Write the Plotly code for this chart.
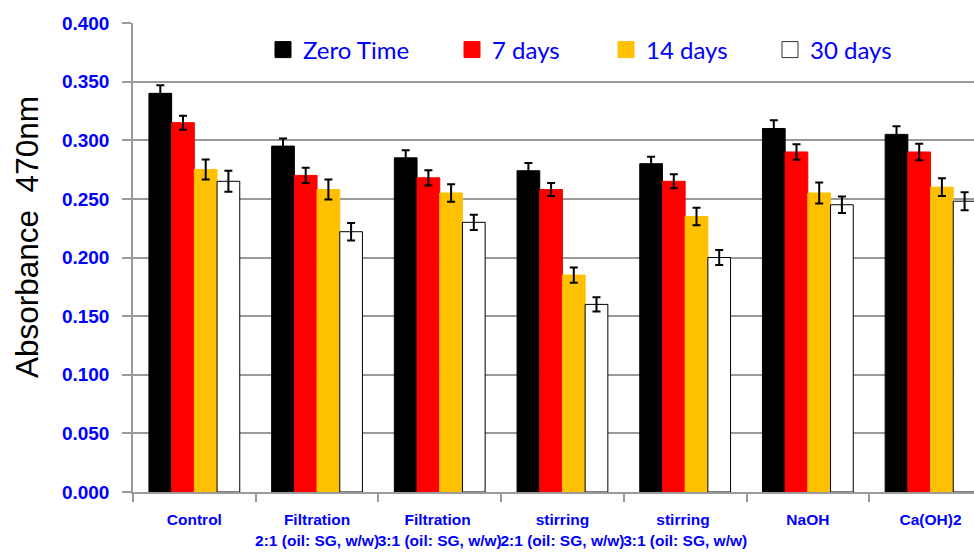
import plotly.graph_objects as go

# Sample groups (two-line tick labels)
categories = [
    "Control",
    "Filtration<br>2:1 (oil: SG, w/w)",
    "Filtration <br>3:1 (oil: SG, w/w)",
    "stirring<br>2:1 (oil: SG, w/w)",
    "stirring <br>3:1 (oil: SG, w/w)",
    "NaOH",
    "Ca(OH)2",
]

# Absorbance at 470 nm for each storage time
zero_time = [0.340, 0.295, 0.285, 0.274, 0.280, 0.310, 0.305]
days_7 = [0.315, 0.270, 0.268, 0.258, 0.265, 0.290, 0.290]
days_14 = [0.275, 0.258, 0.255, 0.185, 0.235, 0.255, 0.260]
days_30 = [0.265, 0.222, 0.230, 0.160, 0.200, 0.245, 0.248]

# Standard errors
err_zero = [0.007, 0.0065, 0.0065, 0.0065, 0.006, 0.007, 0.007]
err_7 = [0.006, 0.0065, 0.0065, 0.0055, 0.006, 0.0066, 0.007]
err_14 = [0.0085, 0.0085, 0.0075, 0.0065, 0.0075, 0.009, 0.0076]
err_30 = [0.009, 0.0075, 0.0065, 0.006, 0.0065, 0.007, 0.0076]

series_names = ["Zero Time", "7 days", "14 days", "30 days"]
y_ticks = [0.0, 0.05, 0.10, 0.15, 0.20, 0.25, 0.30, 0.35, 0.40]
y_title = "Absorbance \u00a0470nm"

W, H = 974, 558
M_L, M_R, M_T, M_B = 133, 0, 23, 66
plot_w = W - M_L - M_R
plot_h = H - M_T - M_B

BLUE = "#0000FF"
GRID = "#9a9a9a"
BOLD_SANS = "Liberation Sans, Arial, sans-serif"

series = [
    (series_names[0], zero_time, err_zero, "#000000", "#000000"),
    (series_names[1], days_7, err_7, "#FF0000", "#FF0000"),
    (series_names[2], days_14, err_14, "#FFC000", "#FFC000"),
    (series_names[3], days_30, err_30, "#FFFFFF", "#000000"),
]

legend_ids = ["legend", "legend2", "legend3", "legend4"]
legend_px = [263, 452, 606, 770]  # left edge of each legend entry, px

fig = go.Figure()
for name, vals, errs, fill, edge in series:
    fig.add_trace(go.Bar(
        name=name,
        x=categories,
        y=vals,
        marker=dict(color=fill, line=dict(color=edge, width=1)),
        error_y=dict(type="data", array=errs, visible=True,
                     color="#000000", thickness=2, width=4),
        showlegend=False,
    ))

# Legend keys: larger square swatches, one legend box per series
for (name, _, _, fill, edge), lid in zip(series, legend_ids):
    fig.add_trace(go.Scatter(
        name=name,
        x=[None],
        y=[None],
        mode="markers",
        marker=dict(symbol="square", size=16, color=fill,
                    line=dict(color="#333333" if fill != edge else fill, width=1)),
        legend=lid,
        showlegend=True,
    ))

legend_layout = {}
for lid, px in zip(legend_ids, legend_px):
    legend_layout[lid] = dict(
        x=(px - M_L) / plot_w,
        y=1 - (50 - M_T) / plot_h,
        xanchor="left",
        yanchor="middle",
        orientation="h",
        bgcolor="rgba(0,0,0,0)",
        font=dict(family="Lato, Open Sans, sans-serif", size=24, color=BLUE),
        itemsizing="trace",
        itemclick=False,
    )

fig.update_layout(
    width=W,
    height=H,
    margin=dict(l=M_L, r=M_R, t=M_T, b=M_B, autoexpand=False),
    paper_bgcolor="white",
    plot_bgcolor="white",
    barmode="group",
    bargap=0.26,
    bargroupgap=0,
    showlegend=True,
    **legend_layout,
)

# Rotated y-axis title placed in the left margin
fig.add_annotation(
    text=y_title,
    textangle=-90,
    xref="paper",
    yref="paper",
    x=0,
    y=1 - (237 - M_T) / plot_h,
    xanchor="center",
    yanchor="middle",
    xshift=-(M_L - 27),
    showarrow=False,
    font=dict(family="Liberation Sans, Arial, sans-serif", size=31.5, color="#000000"),
)

fig.update_xaxes(
    range=[-0.5, -0.5 + plot_w / 122.7],
    showline=True,
    linecolor=GRID,
    linewidth=1.5,
    ticks="outside",
    tickson="boundaries",
    ticklen=8,
    tickcolor=GRID,
    tickwidth=1.5,
    showgrid=False,
    tickangle=0,
    ticklabelstandoff=13,
    tickfont=dict(family=BOLD_SANS, size=15.5, color=BLUE, weight="bold"),
    automargin=False,
)

fig.update_yaxes(
    range=[0, 0.4],
    tickvals=y_ticks,
    tickformat=".3f",
    showline=True,
    linecolor=GRID,
    linewidth=1.5,
    ticks="outside",
    ticklen=9,
    tickcolor=GRID,
    tickwidth=1.5,
    showgrid=True,
    gridcolor=GRID,
    gridwidth=1.5,
    zeroline=False,
    ticklabelstandoff=9,
    tickfont=dict(family=BOLD_SANS, size=19, color=BLUE, weight="bold"),
    automargin=False,
)

fig.write_html("out.html")
